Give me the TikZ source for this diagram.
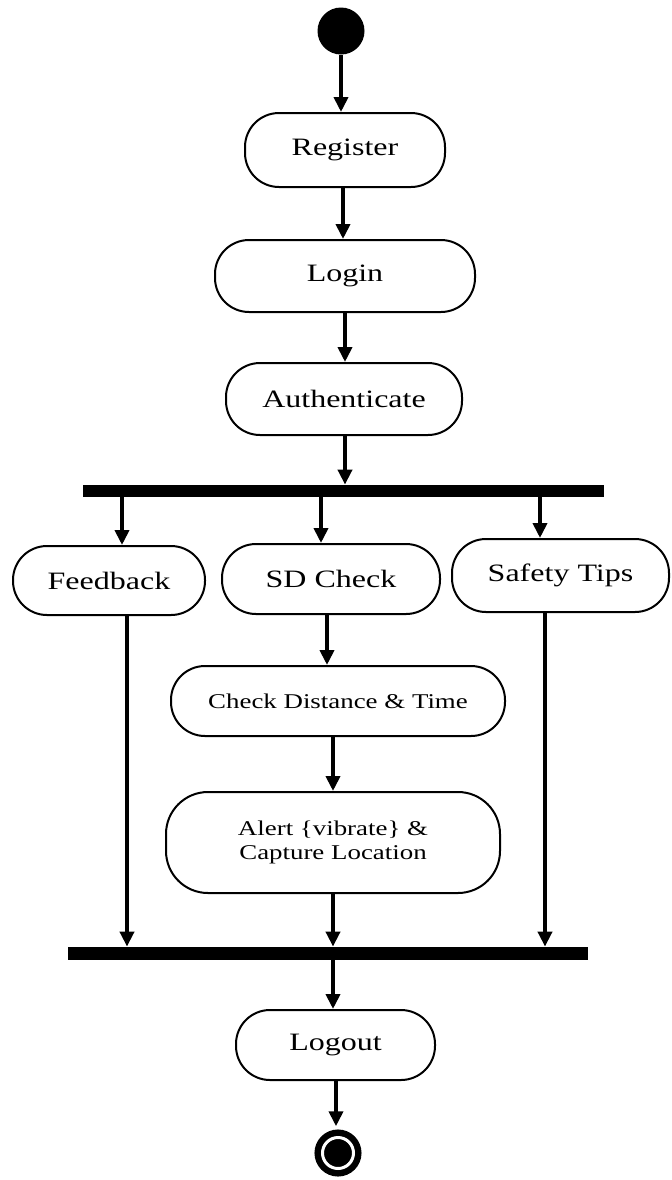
\documentclass[tikz,border=0pt]{standalone}
\usepackage{fontspec}
\setmainfont[FakeStretch=1.28]{Liberation Serif}
\usetikzlibrary{arrows.meta}
\begin{document}
\begin{tikzpicture}[x=0.5pt,y=-0.5pt,
  act/.style={draw, line width=1pt, rounded corners=17pt, inner sep=0pt,
    align=center, font=\fontsize{12.5}{15}\selectfont},
  smallact/.style={act, font=\fontsize{10.5}{12}\selectfont},
  syncbar/.style={fill=black, inner sep=0pt, minimum height=6pt},
  flow/.style={line width=2pt, -{Triangle[length=7.5pt,width=7pt]}},
]
\useasboundingbox (0,0) rectangle (671,1180);

% initial and final states
\node[circle, fill=black, inner sep=0pt, minimum size=23.5pt] (start) at (341,31) {};
\node[circle, fill=black, draw=black, line width=3.25pt, double=white,
  double distance=1.5pt, inner sep=0pt, minimum size=15.5pt] (stop) at (338,1153) {};

% activities
\node[act, minimum width=100pt, minimum height=37pt] (reg) at (345,150) {Register};
\node[act, minimum width=130pt, minimum height=36pt] (login) at (345,276) {Login};
\node[act, minimum width=118pt, minimum height=36pt] (auth) at (344,399) {Authenticate};

\node[syncbar, minimum width=260.5pt] (fork) at (343.5,491) {};

\node[act, minimum width=96pt, minimum height=34.5pt] (fb) at (109,580.5) {Feedback};
\node[act, minimum width=109pt, minimum height=35pt] (sd) at (331,579) {SD Check};
\node[act, minimum width=108.5pt, minimum height=36.5pt] (st) at (560.5,575.5) {Safety Tips};

\node[smallact, minimum width=167pt, minimum height=35pt] (cd) at (338,701) {Check Distance \& Time};
\node[smallact, minimum width=167pt, minimum height=50.5pt, rounded corners=21pt] (alert) at (333,842.5)
  {Alert \{vibrate\} \&\\Capture Location};

\node[syncbar, minimum width=260pt, minimum height=6.5pt] (join) at (328,953.5) {};

\node[act, minimum width=99.5pt, minimum height=35pt] (logout) at (335.5,1045) {Logout};

% connector columns
\coordinate (k1) at (341,0);
\coordinate (k2) at (343,0);
\coordinate (k3) at (345,0);
\coordinate (kf) at (122,0);
\coordinate (ks) at (321,0);
\coordinate (kt) at (540,0);
\coordinate (kfb) at (127,0);
\coordinate (ktb) at (545,0);
\coordinate (kc) at (327,0);
\coordinate (ka) at (333,0);
\coordinate (ke) at (336,0);

\draw[flow] (start.south -| k1) -- (reg.north -| k1);
\draw[flow] (reg.south -| k2) -- (login.north -| k2);
\draw[flow] (login.south -| k3) -- (auth.north -| k3);
\draw[flow] (auth.south -| k3) -- (fork.north -| k3);

\draw[flow] (fork.south -| kf) -- (fb.north -| kf);
\draw[flow] (fork.south -| ks) -- (sd.north -| ks);
\draw[flow] (fork.south -| kt) -- (st.north -| kt);

\draw[flow] (sd.south -| kc) -- (cd.north -| kc);
\draw[flow] (cd.south -| ka) -- (alert.north -| ka);

\draw[flow] (fb.south -| kfb) -- (join.north -| kfb);
\draw[flow] (alert.south -| ka) -- (join.north -| ka);
\draw[flow] (st.south -| ktb) -- (join.north -| ktb);

\draw[flow] (join.south -| ka) -- (logout.north -| ka);
\draw[flow, shorten >=4pt] (logout.south -| ke) -- (stop.north -| ke);
\end{tikzpicture}
\end{document}
